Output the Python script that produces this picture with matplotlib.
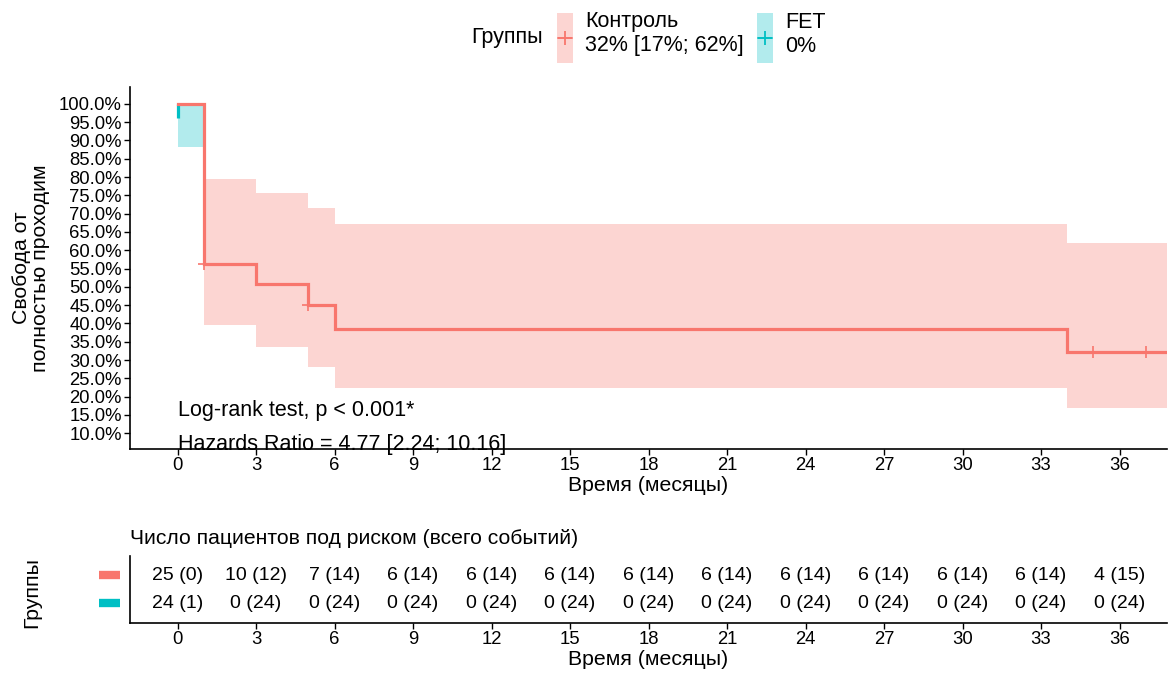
import matplotlib
matplotlib.use("Agg")
import matplotlib.pyplot as plt
from matplotlib.patches import Rectangle
from matplotlib.lines import Line2D

plt.rcParams['font.family'] = ['Liberation Sans', 'DejaVu Sans']

# ---- data ----
ctrl_times = [0, 1, 3, 5, 6, 34, 37.8]
ctrl_surv = [1.0, 0.562, 0.507, 0.450, 0.385, 0.321]
ctrl_upper = [1.0, 0.795, 0.757, 0.716, 0.671, 0.621]
ctrl_lower = [1.0, 0.396, 0.337, 0.282, 0.224, 0.168]
ctrl_censor_t = [1, 5, 35, 37]
ctrl_censor_s = [0.562, 0.450, 0.321, 0.321]

fet_times = [0, 1]
fet_surv = [1.0, 0.961]
fet_upper = [1.0]
fet_lower = [0.883]

risk_times = [0, 3, 6, 9, 12, 15, 18, 21, 24, 27, 30, 33, 36]
risk_ctrl = ["25 (0)", "10 (12)", "7 (14)", "6 (14)", "6 (14)", "6 (14)", "6 (14)",
             "6 (14)", "6 (14)", "6 (14)", "6 (14)", "6 (14)", "4 (15)"]
risk_fet = ["24 (1)", "0 (24)", "0 (24)", "0 (24)", "0 (24)", "0 (24)", "0 (24)",
            "0 (24)", "0 (24)", "0 (24)", "0 (24)", "0 (24)", "0 (24)"]

y_ticks = [0.10 + 0.05 * i for i in range(19)]
x_ticks = risk_times

RED = "#F8766D"
TEAL = "#00BFC4"

W, H = 1173, 675
fig = plt.figure(figsize=(W / 100, H / 100), dpi=100)

def ax_rect(l, t, r, b):
    return [l / W, 1 - b / H, (r - l) / W, (b - t) / H]

# ---- main KM axes ----
ax = fig.add_axes(ax_rect(130, 86.7, 1166.7, 449))
xlim = (-1.82, 37.8)
ax.set_xlim(*xlim)
ax.set_ylim(0.057, 1.047)

# bands (step ribbons)
for i in range(len(ctrl_upper)):
    ax.fill_between([ctrl_times[i], ctrl_times[i + 1]], ctrl_lower[i], ctrl_upper[i],
                    color=RED, alpha=0.3, linewidth=0)
for i in range(len(fet_upper)):
    ax.fill_between([fet_times[i], fet_times[i + 1]], fet_lower[i], fet_upper[i],
                    color=TEAL, alpha=0.3, linewidth=0)

# FET line
ax.plot([fet_times[0], fet_times[0]], fet_surv, color=TEAL, lw=2.3, solid_capstyle='butt')

# Control step line
xs, ys = [], []
for i in range(len(ctrl_surv)):
    xs += [ctrl_times[i], ctrl_times[i + 1]]
    ys += [ctrl_surv[i], ctrl_surv[i]]
ax.plot(xs, ys, color=RED, lw=2.3, solid_joinstyle='miter')
ax.plot(ctrl_censor_t, ctrl_censor_s, linestyle='none', marker='+', color=RED,
        markersize=9, markeredgewidth=1.2)

ax.set_xticks(x_ticks)
ax.set_xticklabels([str(t) for t in x_ticks])
ax.set_yticks(y_ticks)
ax.set_yticklabels([f"{v * 100:.1f}%" for v in y_ticks])
ax.tick_params(axis='both', labelsize=13.3, colors='black', length=4, width=1, pad=2)
for s in ['top', 'right']:
    ax.spines[s].set_visible(False)
for s in ['left', 'bottom']:
    ax.spines[s].set_linewidth(1.2)
ax.set_xlabel("Время (месяцы)", fontsize=15.3, labelpad=1)
ax.set_ylabel("Свобода от\nполностью проходим", fontsize=15.3, labelpad=6, linespacing=1.05)

ax.text(0, 0.162, "Log-rank test, p < 0.001*", fontsize=15.5, va='center', ha='left')
ax.text(0, 0.068, "Hazards Ratio = 4.77 [2.24; 10.16]", fontsize=15.5, va='center', ha='left')

# ---- legend (manual) ----
fig.text(471 / W, 1 - 37 / H, "Группы", fontsize=15.5, va='center', ha='left')
for (x0, col, l1, l2) in [(557, RED, "Контроль", "32% [17%; 62%]"), (757, TEAL, "FET", "0%")]:
    fig.patches.append(Rectangle((x0 / W, 1 - 63 / H), 16 / W, 50 / H, transform=fig.transFigure,
                                 facecolor=col, alpha=0.3, edgecolor='none'))
    fig.lines.append(Line2D([(x0 + 8) / W], [1 - 38 / H], transform=fig.transFigure,
                            marker='+', color=col, markersize=10, markeredgewidth=1.3, linestyle='none'))
    fig.lines.append(Line2D([(x0 + 1) / W, (x0 + 15) / W], [1 - 38 / H, 1 - 38 / H],
                            transform=fig.transFigure, color=col, lw=1.3, alpha=0.8))
    fig.text((x0 + 28) / W, 1 - 22 / H, l1, fontsize=15.5, va='center', ha='left')
    fig.text((x0 + 28) / W, 1 - 46 / H, l2, fontsize=15.5, va='center', ha='left')

# ---- risk table ----
rt = fig.add_axes(ax_rect(130, 556, 1166.7, 623))
rt.set_xlim(*xlim)
rt.set_ylim(0.29, 2.68)
for t, a, b in zip(risk_times, risk_ctrl, risk_fet):
    rt.text(t, 2, a, ha='center', va='center', fontsize=14)
    rt.text(t, 1, b, ha='center', va='center', fontsize=14)
rt.set_xticks(x_ticks)
rt.set_xticklabels([str(t) for t in x_ticks])
rt.set_yticks([2, 1])
rt.set_yticklabels(["", ""])
rt.tick_params(axis='y', length=0)
rt.tick_params(axis='x', labelsize=13.3, length=4, width=1, pad=2)
for s in ['top', 'right']:
    rt.spines[s].set_visible(False)
for s in ['left', 'bottom']:
    rt.spines[s].set_linewidth(1.2)
rt.set_xlabel("Время (месяцы)", fontsize=15.3, labelpad=1)
rt.set_title("Число пациентов под риском (всего событий)", fontsize=15.2, loc='left', pad=9, x=0.0)

for ypix, col in [(575, RED), (603, TEAL)]:
    fig.lines.append(Line2D([99 / W, 120 / W], [1 - ypix / H, 1 - ypix / H],
                            transform=fig.transFigure, color=col, lw=6, solid_capstyle='butt'))
fig.text(32 / W, 1 - 592 / H, "Группы", fontsize=15.3, rotation=90, va='center', ha='center')

fig.savefig("out.png", dpi=100)
